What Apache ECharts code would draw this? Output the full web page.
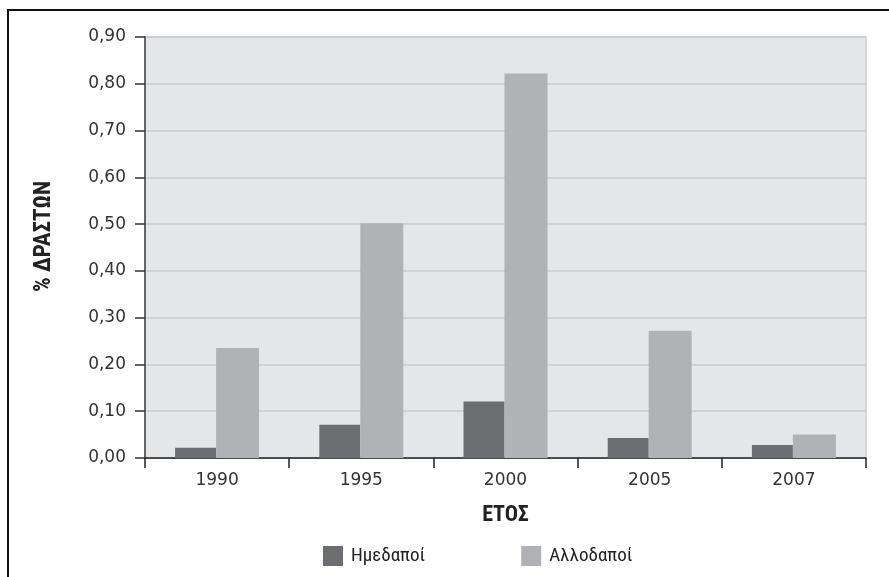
<!DOCTYPE html>
<html>
<head>
<meta charset="utf-8">
<script src="https://cdn.jsdelivr.net/npm/echarts@6/dist/echarts.min.js"></script>
<style>
html,body{margin:0;padding:0;background:#fff;}
#chart{width:889px;height:577px;}
</style>
</head>
<body>
<div id="chart"></div>
<script>
const categories = ['1990', '1995', '2000', '2005', '2007'];
const seriesNames = ['Ημεδαποί', 'Αλλοδαποί'];
const domestic = [0.022, 0.071, 0.121, 0.043, 0.028];
const foreign = [0.235, 0.502, 0.822, 0.272, 0.050];
const yAxisTitle = '% ΔΡΑΣΤΩΝ';
const xAxisTitle = 'ΕΤΟΣ';

const chart = echarts.init(document.getElementById('chart'), null, {renderer: 'canvas'});
const condensed = '"Liberation Sans Narrow", "Roboto Condensed", "Noto Sans", sans-serif';
const tickFont = '"DejaVu Sans", "Open Sans", sans-serif';

chart.setOption({
  animation: false,
  backgroundColor: '#ffffff',
  graphic: [{
    type: 'rect',
    shape: {x: 8, y: 10, width: 1000, height: 1000},
    style: {fill: 'none', stroke: '#111', lineWidth: 2},
    z: 100
  }],
  grid: {
    left: 145, top: 37, right: 23, bottom: 119,
    show: true, backgroundColor: '#e5e6e8', borderColor: '#cfd0d2', borderWidth: 1.5
  },
  legend: {
    data: seriesNames,
    left: 318, top: 541,
    itemWidth: 20, itemHeight: 20, itemGap: 96,
    icon: 'rect',
    textStyle: {fontFamily: condensed, fontSize: 19, color: '#222', padding: [0, 0, 0, 3]}
  },
  xAxis: {
    type: 'category',
    data: categories,
    name: xAxisTitle,
    nameLocation: 'middle',
    nameGap: 46,
    nameTextStyle: {fontFamily: condensed, fontWeight: 'bold', fontSize: 22, color: '#222'},
    axisLine: {lineStyle: {color: '#222', width: 1.5}},
    axisTick: {show: true, length: 10, lineStyle: {color: '#222', width: 1.5}},
    axisLabel: {fontFamily: tickFont, fontSize: 17, color: '#333', margin: 14}
  },
  yAxis: {
    type: 'value',
    min: 0, max: 0.9, interval: 0.1,
    name: yAxisTitle,
    nameLocation: 'middle',
    nameGap: 89,
    nameRotate: 90,
    nameTextStyle: {fontFamily: condensed, fontWeight: 'bold', fontSize: 23, color: '#222', padding: [0, 0, 0, 22]},
    axisLine: {show: true, lineStyle: {color: '#666', width: 2}},
    axisTick: {show: true, length: 10, lineStyle: {color: '#333', width: 1.5}},
    axisLabel: {fontFamily: tickFont, fontSize: 17, color: '#333', margin: 19,
      formatter: v => v.toFixed(2).replace('.', ',')},
    splitLine: {lineStyle: {color: '#c9cacc', width: 1.5}}
  },
  series: [
    {name: seriesNames[0], type: 'bar', data: domestic, itemStyle: {color: '#6d6e71'},
     barWidth: 41, barGap: '0%'},
    {name: seriesNames[1], type: 'bar', data: foreign, itemStyle: {color: '#b1b2b5'},
     barWidth: 43, barGap: '0%'}
  ]
});
</script>
</body>
</html>
